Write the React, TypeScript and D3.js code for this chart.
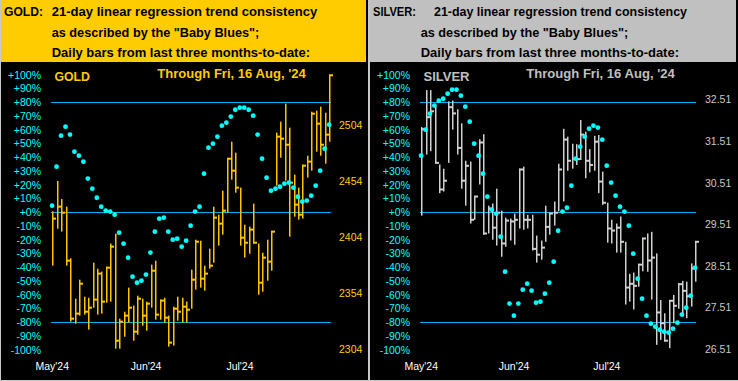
import React, { useEffect } from "react";
import * as d3 from "d3";

// ---------- DATA ----------
const monthLabels = ["May'24", "Jun'24", "Jul'24"];
const monthIndex = [0, 21, 42];
const pctTicks = [100, 90, 80, 70, 60, 50, 40, 30, 20, 10, 0, -10, -20, -30, -40, -50, -60, -70, -80, -90, -100];
const pctLines = [80, 0, -80];

const goldPriceTicks = [2304, 2354, 2404, 2454, 2504];
const silverPriceTicks = [26.51, 27.51, 28.51, 29.51, 30.51, 31.51, 32.51];

const goldHigh = [2426.9, 2454.0, 2437.9, 2431.1, 2385.0, 2348.9, 2365.9, 2350.7, 2349.8, 2381.1, 2375.7, 2373.1, 2377.5, 2398.1, 2407.0, 2331.1, 2337.3, 2358.8, 2342.7, 2351.6, 2348.9, 2346.3, 2379.3, 2382.9, 2348.1, 2349.8, 2333.8, 2341.8, 2350.7, 2349.8, 2346.3, 2374.8, 2401.6, 2400.7, 2378.4, 2393.6, 2431.1, 2423.9, 2445.4, 2473.9, 2489.1, 2479.3, 2448.1, 2415.0, 2413.2, 2433.8, 2398.1, 2390.0, 2401.6, 2408.8, 2497.2, 2507.0, 2523.1, 2501.6, 2459.7, 2448.1, 2468.6, 2476.6, 2515.9, 2516.8, 2520.4, 2515.0, 2548.4];
const goldLow = [2378.4, 2411.4, 2408.8, 2378.4, 2328.4, 2326.6, 2333.8, 2334.7, 2321.3, 2340.9, 2334.7, 2335.6, 2345.4, 2346.3, 2304.3, 2304.3, 2315.0, 2327.5, 2311.4, 2316.8, 2324.8, 2320.4, 2340.9, 2330.2, 2330.2, 2327.5, 2306.1, 2307.0, 2329.3, 2327.5, 2327.5, 2340.0, 2357.0, 2358.8, 2356.1, 2375.7, 2381.1, 2396.3, 2406.1, 2425.7, 2455.2, 2443.6, 2396.3, 2385.6, 2389.1, 2398.1, 2352.5, 2355.2, 2365.0, 2373.9, 2449.8, 2474.8, 2454.3, 2404.3, 2422.2, 2419.5, 2420.4, 2457.0, 2463.2, 2480.2, 2476.6, 2469.5, 2489.1];
const goldClose = [2420.4, 2431.1, 2425.7, 2382.9, 2331.1, 2335.6, 2362.3, 2337.3, 2340.9, 2348.1, 2371.3, 2346.3, 2376.6, 2395.4, 2311.4, 2328.4, 2333.8, 2340.9, 2319.5, 2348.9, 2333.8, 2344.5, 2373.9, 2334.7, 2347.2, 2332.0, 2309.7, 2340.0, 2337.3, 2341.8, 2339.1, 2365.9, 2399.8, 2366.8, 2371.3, 2378.4, 2421.3, 2415.9, 2427.5, 2473.9, 2463.2, 2448.1, 2403.4, 2398.9, 2410.6, 2398.9, 2363.2, 2385.6, 2382.0, 2408.8, 2493.6, 2491.8, 2486.4, 2452.5, 2432.9, 2423.9, 2467.7, 2471.3, 2514.1, 2505.2, 2486.4, 2495.4, 2548.4];
const goldTrend = [4.8, 33.2, 55.7, 62.3, 56.5, 44.1, 41.2, 36.8, 24.5, 17.2, 10.6, 4.1, 1.2, 0.5, -1.7, -14.8, -22.8, -33.0, -46.8, -51.2, -49.7, -45.3, -29.3, -14.1, -4.6, -3.9, -14.1, -19.9, -19.2, -25.0, -20.6, -9.7, 0.5, 4.1, 28.1, 47.0, 49.9, 55.0, 63.0, 65.2, 69.6, 74.6, 76.1, 76.1, 74.6, 70.3, 56.5, 39.0, 25.2, 15.7, 17.2, 18.6, 20.8, 21.6, 17.9, 11.4, 7.7, 8.5, 12.1, 19.4, 30.3, 46.3, 63.7];

const silverHigh = [31.85, 32.74, 32.74, 32.35, 30.95, 30.85, 32.47, 32.49, 32.28, 31.94, 31.04, 31.02, 30.18, 31.56, 31.68, 29.96, 30.01, 30.37, 29.84, 29.67, 29.65, 29.77, 30.85, 30.90, 29.74, 29.74, 29.24, 29.12, 29.96, 29.79, 30.06, 30.97, 31.81, 31.62, 31.45, 31.44, 32.02, 31.74, 31.32, 31.64, 31.66, 30.78, 30.03, 29.62, 29.53, 29.70, 29.09, 28.32, 28.35, 28.56, 29.17, 29.29, 29.33, 28.81, 27.69, 27.37, 27.69, 27.81, 28.09, 28.15, 28.13, 28.57, 29.09];
const silverLow = [29.72, 31.19, 31.27, 30.99, 30.26, 30.30, 30.99, 31.79, 31.19, 30.37, 29.96, 29.53, 29.62, 30.47, 29.26, 29.29, 29.14, 29.00, 28.73, 28.97, 29.12, 29.02, 29.41, 29.38, 29.41, 28.88, 28.59, 28.66, 29.09, 29.26, 29.48, 29.82, 30.06, 30.80, 30.85, 30.94, 31.06, 30.62, 30.76, 30.80, 30.26, 29.98, 29.07, 29.05, 28.83, 28.83, 27.58, 27.65, 27.46, 28.01, 28.38, 28.37, 27.70, 26.61, 26.73, 26.69, 26.53, 27.13, 27.48, 27.29, 27.25, 27.53, 28.13];
const silverClose = [31.80, 32.09, 32.23, 30.99, 30.35, 30.56, 32.33, 32.18, 31.35, 30.56, 30.92, 29.62, 30.18, 31.48, 29.29, 29.89, 29.43, 29.79, 29.05, 29.60, 29.58, 29.62, 30.83, 29.62, 29.62, 28.92, 28.78, 28.95, 29.45, 29.77, 29.79, 30.83, 31.55, 31.04, 31.09, 31.08, 31.67, 31.04, 30.94, 31.50, 30.54, 30.03, 29.41, 29.36, 29.43, 29.09, 27.99, 28.08, 28.03, 28.54, 29.17, 28.64, 28.71, 27.39, 27.13, 26.71, 27.67, 27.55, 28.07, 27.91, 27.78, 28.45, 29.09];
const silverTrend = [41.2, 60.1, 71.7, 77.6, 81.2, 82.6, 86.3, 89.2, 89.2, 84.8, 76.8, 65.9, 49.9, 41.2, 28.1, 11.4, 1.9, -1.0, -17.7, -43.2, -66.4, -75.2, -66.4, -56.3, -51.9, -57.0, -65.7, -65.0, -59.2, -51.2, -35.9, -13.4, 0.5, 3.4, 19.4, 39.0, 47.7, 55.0, 60.8, 63.0, 61.6, 52.8, 33.9, 21.6, 12.1, 4.1, 0.5, -9.7, -30.1, -48.3, -62.8, -75.2, -81.0, -83.2, -85.4, -86.8, -87.5, -84.6, -80.3, -74.4, -69.4, -60.6, -40.3];

const dateLabel = "Through Fri, 16 Aug, '24";
const headerRest = ["21-day linear regression trend consistency", "as described by the \"Baby Blues\";", "Daily bars from last three months-to-date:"];

const FONT = "'Liberation Sans', Arial, sans-serif";

type PanelCfg = {
  x0: number;
  width: number;
  headerFill: string;
  name: string;
  prefix: string;
  prefixLen: number;
  restX: number;
  line1Len: number;
  nameLen: number;
  textColor: string;
  barColor: string;
  priceColor: string;
  high: number[];
  low: number[];
  close: number[];
  trend: number[];
  priceTicks: number[];
  priceDomain: [number, number];
  priceRange: [number, number];
  priceFmt: (v: number) => string;
  priceLabelX: number;
  xRange: [number, number];
  lineX: [number, number];
};

const yPct = d3.scaleLinear().domain([-100, 100]).range([349.8, 74.8]);

function Panel({ c }: { c: PanelCfg }) {
  const xs = d3.scaleLinear().domain([0, c.high.length - 1]).range(c.xRange);
  const yp = d3.scaleLinear().domain(c.priceDomain).range(c.priceRange);
  const n = c.high.length;
  return (
    <g transform={`translate(${c.x0},0)`}>
      <rect x={1} y={0} width={c.width - 1} height={381} fill="#000" />
      <rect x={1} y={0} width={c.width - 3} height={62} fill={c.headerFill} />
      {/* header */}
      <text x={4} y={15.5} fontFamily={FONT} fontWeight="bold" fontSize={13} fill="#000" textLength={c.prefixLen} lengthAdjust="spacingAndGlyphs">{c.prefix}</text>
      <text x={c.restX} y={15.5} fontFamily={FONT} fontWeight="bold" fontSize={13} fill="#000" textLength={c.line1Len} lengthAdjust="spacingAndGlyphs">{headerRest[0]}</text>
      <text x={51.7} y={36.5} fontFamily={FONT} fontWeight="bold" fontSize={13} fill="#000" textLength={207.6} lengthAdjust="spacingAndGlyphs">{headerRest[1]}</text>
      <text x={51.7} y={56.5} fontFamily={FONT} fontWeight="bold" fontSize={13} fill="#000" textLength={258.3} lengthAdjust="spacingAndGlyphs">{headerRest[2]}</text>
      {/* titles in plot */}
      <text x={54.5} y={80.5} fontFamily={FONT} fontWeight="bold" fontSize={13.5} fill={c.textColor} textLength={c.nameLen} lengthAdjust="spacingAndGlyphs">{c.name}</text>
      <text x={157.3} y={78.3} fontFamily={FONT} fontWeight="bold" fontSize={13.5} fill={c.textColor} textLength={148.5} lengthAdjust="spacingAndGlyphs">{dateLabel}</text>
      {/* pct axis labels */}
      {pctTicks.map((t) => (
        <text key={t} x={41} y={yPct(t)} dy="0.36em" textAnchor="end" fontFamily={FONT} fontSize={10.5} fill="#00FFFF">
          {t >= 0 ? `+${t}%` : `${t}%`}
        </text>
      ))}
      {/* price labels */}
      {c.priceTicks.map((t) => (
        <text key={t} x={c.priceLabelX} y={yp(t)} dy="0.36em" textAnchor="start" fontFamily={FONT} fontSize={10.5} fill={c.priceColor}>
          {c.priceFmt(t)}
        </text>
      ))}
      {/* month labels */}
      {monthLabels.map((m, k) => (
        <text key={m} x={xs(monthIndex[k])} y={369.5} textAnchor="middle" fontFamily={FONT} fontSize={10.5} fill="#FFFFFF">{m}</text>
      ))}
      {/* horizontal reference lines */}
      {pctLines.map((p) => (
        <line key={p} x1={c.lineX[0]} x2={c.lineX[1]} y1={Math.floor(yPct(p)) + 0.5} y2={Math.floor(yPct(p)) + 0.5} stroke="#00B0F0" strokeWidth={1} />
      ))}
      {/* bars */}
      {d3.range(n).map((i) => {
        const x = Math.round(xs(i));
        const yh = yp(c.high[i]);
        const yl = yp(c.low[i]);
        const yc = yp(c.close[i]);
        return (
          <g key={i} fill={c.barColor}>
            <rect x={x} y={yh} width={1.5} height={Math.max(1, yl - yh)} />
            <rect x={x} y={yc - 1} width={4} height={2} />
          </g>
        );
      })}
      {/* trend dots */}
      {c.trend.map((v, i) => (
        <circle key={i} cx={xs(i) - 0.2} cy={yPct(v)} r={2.4} fill="#00FFFF" />
      ))}
    </g>
  );
}

const goldCfg: PanelCfg = {
  x0: 0,
  width: 368,
  headerFill: "#FFCC00",
  name: "GOLD",
  prefix: "GOLD:",
  prefixLen: 39,
  restX: 51.7,
  line1Len: 265.5,
  nameLen: 35.5,
  textColor: "#FFCC00",
  barColor: "#FFC400",
  priceColor: "#FFCC00",
  high: goldHigh,
  low: goldLow,
  close: goldClose,
  trend: goldTrend,
  priceTicks: goldPriceTicks,
  priceDomain: [2304, 2504],
  priceRange: [349, 125],
  priceFmt: (v) => d3.format("d")(v),
  priceLabelX: 339,
  xRange: [52.3, 329.3],
  lineX: [51, 331],
};

const silverCfg: PanelCfg = {
  x0: 369,
  width: 369,
  headerFill: "#C0C0C0",
  name: "SILVER",
  prefix: "SILVER:",
  prefixLen: 43,
  restX: 65,
  line1Len: 253,
  nameLen: 46,
  textColor: "#C0C0C0",
  barColor: "#D0D0D0",
  priceColor: "#C8C8C8",
  high: silverHigh,
  low: silverLow,
  close: silverClose,
  trend: silverTrend,
  priceTicks: silverPriceTicks,
  priceDomain: [26.51, 32.51],
  priceRange: [349, 99.7],
  priceFmt: (v) => d3.format(".2f")(v),
  priceLabelX: 336,
  xRange: [52.3, 326.3],
  lineX: [51, 327],
};

export default function App() {
  useEffect(() => {
    document.body.style.margin = "0";
  }, []);
  return (
    <svg width={738} height={381} style={{ position: "absolute", left: 0, top: 0, display: "block" }} shapeRendering="auto">
      <rect x={0} y={0} width={738} height={381} fill="#C8C8C8" />
      <Panel c={goldCfg} />
      <Panel c={silverCfg} />
      <rect x={0} y={380} width={738} height={1} fill="#C8C8C8" />
    </svg>
  );
}
